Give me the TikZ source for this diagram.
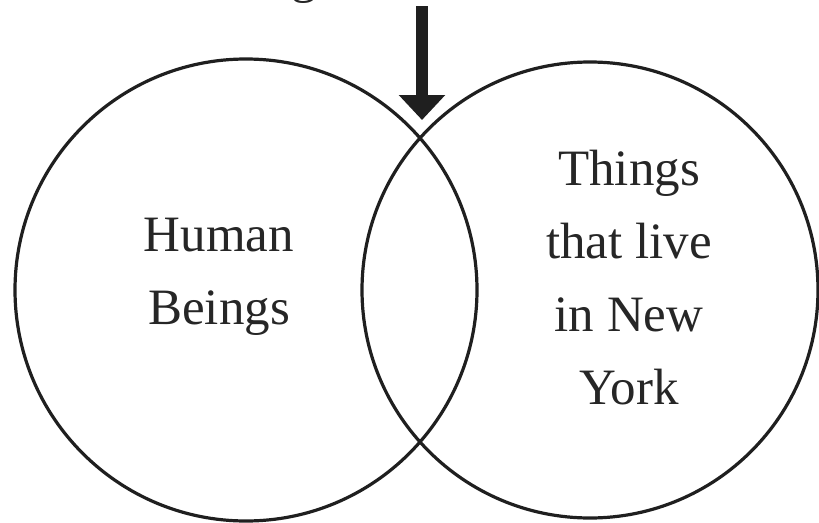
\documentclass[tikz,border=0pt]{standalone}
\usepackage{fontspec}
\setmainfont{Liberation Serif}
\usetikzlibrary{arrows.meta}
\begin{document}
\begin{tikzpicture}[x=1pt,y=-1pt,
  setcircle/.style={draw=black!88,line width=3.2pt},
  label/.style={font=\fontsize{51}{73}\selectfont,text=black!85,align=center,inner sep=0pt},
  pointer/.style={draw=black!88,line width=12pt,-{Triangle[width=45pt,length=25pt]}}]
\useasboundingbox (0,0) rectangle (819,522);
\node[setcircle,circle,minimum size=462pt,inner sep=0pt] (human) at (246,290) {};
\node[setcircle,circle,minimum size=456pt,inner sep=0pt] (ny) at (590,290) {};
\node[label] (humantext) at (219,277) {Human\\Beings};
\node[label] (nytext) at (629,278) {Things\\that live\\in New\\York};
\node[label,anchor=base] (frag) at (304,-8) {g};
\coordinate (arrowtop) at (422,6);
\coordinate (arrowtip) at (422,120);
\draw[pointer] (arrowtop) -- (arrowtip);
\end{tikzpicture}
\end{document}
